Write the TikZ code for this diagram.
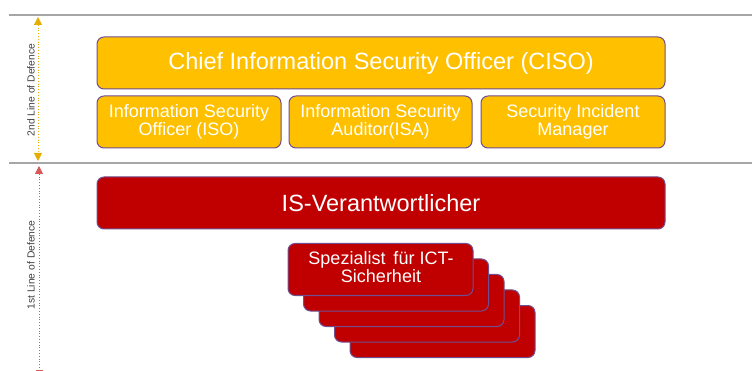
\documentclass[tikz,border=0pt]{standalone}
\usepackage{fontspec}
\setmainfont{Liberation Sans}
\usetikzlibrary{arrows.meta}
\definecolor{gold}{HTML}{FFC000}
\definecolor{dred}{HTML}{C00000}
\definecolor{edgep}{HTML}{6F4F8F}
\definecolor{sep}{HTML}{A6A6A6}
\tikzset{
  role/.style={draw=edgep, line width=1pt, rounded corners=7pt, text=white, align=center, inner sep=0pt},
  goldbox/.style={role, fill=gold},
  redbox/.style={role, fill=dred},
  sepline/.style={draw=sep, line width=1.2pt},
  sidelabel/.style={rotate=90, font=\fontsize{10.3}{12}\selectfont, text=black!75},
  bigtext/.style={font=\fontsize{23.5}{27}\selectfont},
  smalltext/.style={font=\fontsize{18}{18.5}\selectfont},
}
\begin{document}
\begin{tikzpicture}[x=1pt,y=-1pt]
\useasboundingbox (0,0) rectangle (752,371);
% separators
\coordinate (l1a) at (9,15); \coordinate (l1b) at (752,15);
\coordinate (l2a) at (9,163); \coordinate (l2b) at (752,163);
\draw[sepline] (l1a) -- (l1b);
\draw[sepline] (l2a) -- (l2b);
% side arrows
\coordinate (a1) at (38,17); \coordinate (a2) at (38,161);
\coordinate (b1) at (39,166); \coordinate (b2) at (39,371);
\draw[gold!90!black, line width=0.8pt, dotted, {Triangle[width=8pt,length=8pt]}-{Triangle[width=8pt,length=8pt]}] (a1) -- (a2);
\draw[dred!65!white, line width=0.8pt, dotted, {Triangle[width=8pt,length=8pt]}-{Bar[width=7pt]}] (b1) -- (b2);
\node[sidelabel] (lab2) at (31,90) {2nd Line of Defence};
\node[sidelabel] (lab1) at (31,265) {1st Line of Defence};
% CISO
\node[goldbox, bigtext, minimum width=568pt, minimum height=52pt] (ciso) at (381,63) {Chief Information Security Officer (CISO)};
\node[goldbox, smalltext, minimum width=184pt, minimum height=52pt] (iso) at (189,122) {Information Security\\Officer (ISO)};
\node[goldbox, smalltext, minimum width=183pt, minimum height=52pt] (isa) at (380.5,122) {Information Security\\Auditor(ISA)};
\node[goldbox, smalltext, minimum width=184pt, minimum height=52pt] (sim) at (573,122) {Security Incident\\Manager};
% IS-Verantwortlicher
\node[redbox, bigtext, minimum width=568pt, minimum height=52pt] (isv) at (381,203) {IS-Verantwortlicher};
% stack
\foreach \i in {4,3,2,1} {
  \node[redbox, minimum width=185pt, minimum height=52pt] (s\i) at ({380.5+15.5*\i},{269.5+15.5*\i}) {};
}
\node[redbox, minimum width=185pt, minimum height=52pt] (s0) at (380.5,269.5) {};
\node[text=white, smalltext, align=center, anchor=north, inner sep=0pt] (s0t) at (381,251) {Spezialist\ \,für ICT-\\Sicherheit};
\end{tikzpicture}
\end{document}
